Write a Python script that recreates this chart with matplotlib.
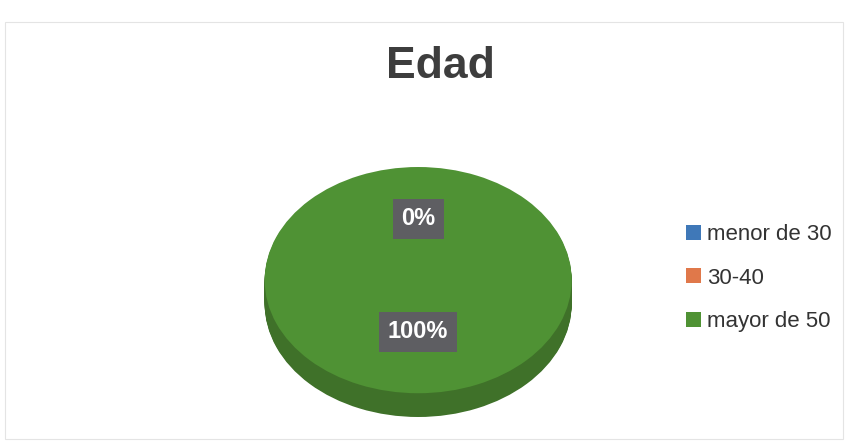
import matplotlib.pyplot as plt
import matplotlib.transforms as mtransforms
import numpy as np

# Data
categories = ['menor de 30', '30-40', 'mayor de 50']
values = [0, 0, 100]
colors = ['#3f78b8', '#e0784a', '#4f9234']
side_colors = ['#335f92', '#b35f3a', '#3f7129']

plt.rcParams['font.family'] = ['Liberation Sans', 'DejaVu Sans']

fig = plt.figure(figsize=(8.51, 4.43), dpi=100)
fig.patch.set_facecolor('white')

# pie drawn as a flattened ellipse with some thickness
ax = fig.add_axes([0.311, 0.0587, 0.3608, 0.5643])
thick = 0.21
for off in np.linspace(thick, 0.01, 25):
    ax.pie(values, colors=side_colors, startangle=90, counterclock=False,
           center=(0, -off), wedgeprops=dict(linewidth=0))

wedges, texts, autotexts = ax.pie(
    values, colors=colors, startangle=90, counterclock=False,
    autopct='%1.0f%%', pctdistance=0.5,
    wedgeprops=dict(linewidth=0),
    textprops=dict(color='white', fontsize=17, fontweight='bold'))
for t in autotexts:
    t.set_bbox(dict(boxstyle='square,pad=0.36', facecolor='#5e5e62', edgecolor='none'))
    t.set_transform(mtransforms.offset_copy(t.get_transform(), fig=fig, y=5, units='dots'))

ax.set_aspect('auto')
ax.set_xlim(-1, 1)
ax.set_ylim(-1 - thick, 1)
ax.axis('off')

fig.text(0.517, 0.851, 'Edad', ha='center', va='center',
         fontsize=32, fontweight='bold', color='#3d3d3d')

fig.legend(wedges, categories, loc='center left', bbox_to_anchor=(0.806, 0.372),
           frameon=False, fontsize=16, handlelength=0.66, handleheight=0.66,
           handletextpad=0.28, labelspacing=1.0, borderpad=0, borderaxespad=0,
           labelcolor='#333333')

# faint border of the chart area
fig.add_artist(plt.Rectangle((0.006, 0.01), 0.985, 0.94, transform=fig.transFigure,
                             fill=False, edgecolor='#e4e4e4', linewidth=0.8))

fig.savefig('out.png', dpi=100, facecolor='white')
